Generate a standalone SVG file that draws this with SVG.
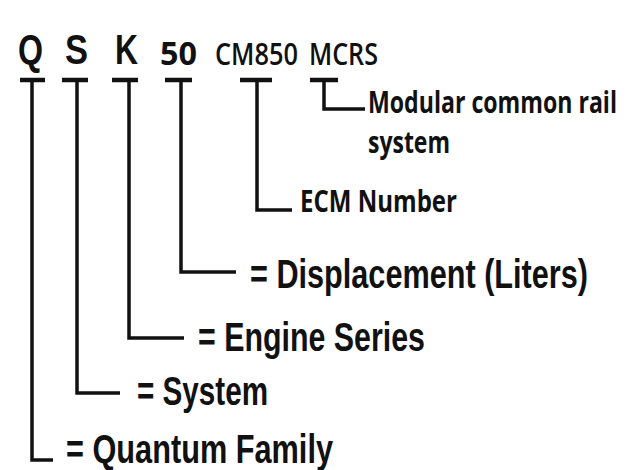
<svg xmlns="http://www.w3.org/2000/svg" width="627" height="470" viewBox="0 0 627 470">
  <style>
    .code { font-family: "Liberation Sans", Arial, sans-serif; font-weight: bold; fill: #111; }
    .num { font-family: "Open Sans", "Liberation Sans", sans-serif; font-weight: bold; fill: #111; }
    .cal { font-family: "Open Sans", "Liberation Sans", sans-serif; font-weight: 600; fill: #111; }
    .calb { font-family: "Open Sans", "Liberation Sans", sans-serif; font-weight: 700; fill: #111; }
    .lab { font-family: "Liberation Sans", Arial, sans-serif; font-weight: bold; font-size: 40px; fill: #111; }
    .bar { stroke: #111; stroke-width: 4.5; fill: none; }
    .ln { stroke: #111; stroke-width: 3.5; fill: none; stroke-linejoin: miter; }
  </style>
  <rect width="627" height="470" fill="#ffffff"/>

  <g id="connectors">
    <line class="bar" x1="20" y1="80" x2="45" y2="80"/>
    <polyline class="ln" points="32,80 32,460 53,460"/>
    <line class="bar" x1="62" y1="80" x2="88" y2="80"/>
    <polyline class="ln" points="77,80 77,393 120,393"/>
    <line class="bar" x1="112" y1="80" x2="138" y2="80"/>
    <polyline class="ln" points="129,80 129,338 184,338"/>
    <line class="bar" x1="165" y1="80" x2="192" y2="80"/>
    <polyline class="ln" points="181,80 181,272 236,272"/>
    <line class="bar" x1="240" y1="80" x2="272" y2="80"/>
    <polyline class="ln" points="257,80 257,210 292,210"/>
    <line class="bar" x1="310" y1="80" x2="338" y2="80"/>
    <polyline class="ln" points="324,80 324,109 365,109"/>
  </g>

  <g id="code-Q"><text class="code" x="18" y="64" font-size="42" textLength="25" lengthAdjust="spacingAndGlyphs">Q</text></g>
  <g id="code-S"><text class="code" x="65" y="64" font-size="42" textLength="23" lengthAdjust="spacingAndGlyphs">S</text></g>
  <g id="code-K"><text class="code" x="115" y="64" font-size="42" textLength="23" lengthAdjust="spacingAndGlyphs">K</text></g>
  <g id="code-50"><text class="num" x="160" y="65" font-size="32" textLength="37" lengthAdjust="spacingAndGlyphs">50</text></g>
  <g id="code-CM850"><text class="cal" x="215" y="65" font-size="31" textLength="83" lengthAdjust="spacingAndGlyphs">CM850</text></g>
  <g id="code-MCRS"><text class="cal" x="309" y="65" font-size="31" textLength="69" lengthAdjust="spacingAndGlyphs">MCRS</text></g>

  <g id="label-mcrs">
    <text class="calb" transform="translate(368,113) scale(0.76,1)" x="0" y="0" font-size="31" textLength="327.6" lengthAdjust="spacingAndGlyphs">Modular common rail</text>
    <text class="calb" x="368" y="153" font-size="31" textLength="82" lengthAdjust="spacingAndGlyphs">system</text>
  </g>
  <g id="label-ecm"><text class="calb" x="300" y="212" font-size="31" textLength="157" lengthAdjust="spacingAndGlyphs">ECM Number</text></g>
  <g id="label-displacement"><text class="lab" transform="translate(250,288) scale(0.76,1)" x="0" y="0" textLength="444.7" lengthAdjust="spacingAndGlyphs">= Displacement (Liters)</text></g>
  <g id="label-engine"><text class="lab" x="198" y="351" textLength="227" lengthAdjust="spacingAndGlyphs">= Engine Series</text></g>
  <g id="label-system"><text class="lab" x="137" y="405" textLength="131" lengthAdjust="spacingAndGlyphs">= System</text></g>
  <g id="label-quantum"><text class="lab" x="66" y="463" textLength="267" lengthAdjust="spacingAndGlyphs">= Quantum Family</text></g>
</svg>
